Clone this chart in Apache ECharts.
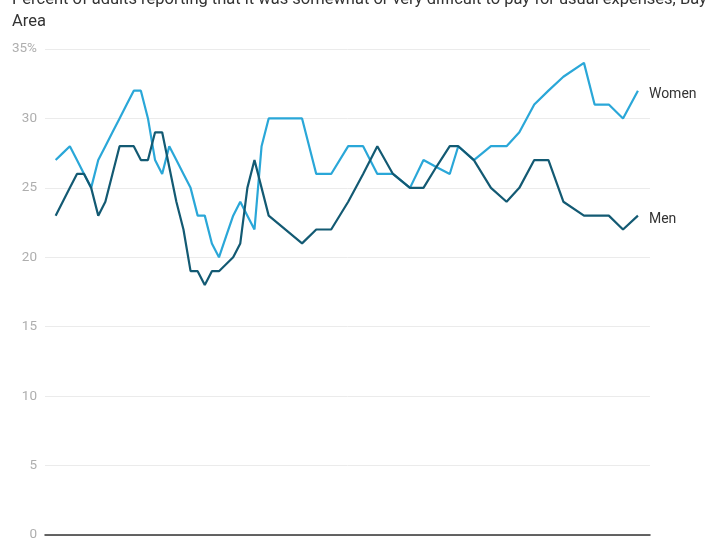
<!DOCTYPE html>
<html>
<head>
<meta charset="utf-8">
<script src="https://cdn.jsdelivr.net/npm/echarts@6/dist/echarts.min.js"></script>
<style>
html,body{margin:0;padding:0;background:#fff;}
#chart{width:720px;height:540px;}
</style>
</head>
<body>
<div id="chart"></div>
<script>
// Survey period index (time position of each survey wave)
var periods = [0,1,2,3,4,5,6,7,8,9,10,11,12,13,14,15,16,17,18,19,20,21,22,23,24,25,26,27,28,29,30,
  34.7,36.7,38.8,41.2,43.3,45.3,47.5,49.9,51.8,53.6,55.5,56.7,58.9,61.3,63.5,65.3,67.4,69.4,71.5,74.4,75.9,77.9,79.9,82.0];
var women = [27,27.5,28,27,26,25,27,28,29,30,31,32,32,30,27,26,28,27,26,25,23,23,21,20,21.5,23,24,23,22,28,30,
  30,26,26,28,28,26,26,25,27,26.5,26,28,27,28,28,29,31,32,33,34,31,31,30,32];
var men = [23,24,25,26,26,25,23,24,26,28,28,28,27,27,29,29,26.5,24,22,19,19,18,19,19,19.5,20,21,25,27,25,23,
  21,22,22,24,26,28,26,25,25,26.5,28,28,27,25,24,25,27,27,24,23,23,23,22,23];
var yTicks = [0,5,10,15,20,25,30,35];
var titleText = 'Percent of adults reporting that it was somewhat or very difficult to pay for usual expenses, Bay\nArea';

function pairs(vals){ return vals.map(function(v,i){ return [periods[i], v]; }); }

var chart = echarts.init(document.getElementById('chart'), null, {renderer:'canvas'});
chart.setOption({
  animation:false,
  backgroundColor:'#fff',
  title:{
    text:titleText, left:7, top:-16,
    textStyle:{fontFamily:'Roboto', fontSize:16.5, fontWeight:'normal', color:'#333', lineHeight:22}
  },
  grid:{left:45, right:70, top:49, bottom:5, containLabel:false, outerBoundsMode:'none'},
  xAxis:{
    type:'value', min:-1.5, max:83.7,
    axisLine:{show:true, onZero:false, lineStyle:{color:'#333', width:1.5}},
    axisTick:{show:false}, axisLabel:{show:false}, splitLine:{show:false}
  },
  yAxis:{
    type:'value', min:0, max:35, interval:5,
    axisLine:{show:false}, axisTick:{show:false},
    axisLabel:{
      color:'#aeaeae', fontFamily:'Roboto', fontSize:13.5, margin:8,
      formatter:function(v){ return yTicks.indexOf(v) === yTicks.length-1 ? v + '%' : String(v); }
    },
    splitLine:{lineStyle:{color:'#ebebeb', width:1}}
  },
  series:[
    {
      name:'Women', type:'line', data:pairs(women), symbol:'none',
      lineStyle:{color:'#2aa7d8', width:2.2}, itemStyle:{color:'#2aa7d8'},
      endLabel:{show:true, formatter:'{a}', color:'#333', fontFamily:'Roboto', fontSize:14, distance:11, offset:[0,4]}
    },
    {
      name:'Men', type:'line', data:pairs(men), symbol:'none',
      lineStyle:{color:'#135a73', width:2.2}, itemStyle:{color:'#135a73'},
      endLabel:{show:true, formatter:'{a}', color:'#333', fontFamily:'Roboto', fontSize:14, distance:11, offset:[0,4]}
    }
  ]
});
</script>
</body>
</html>
